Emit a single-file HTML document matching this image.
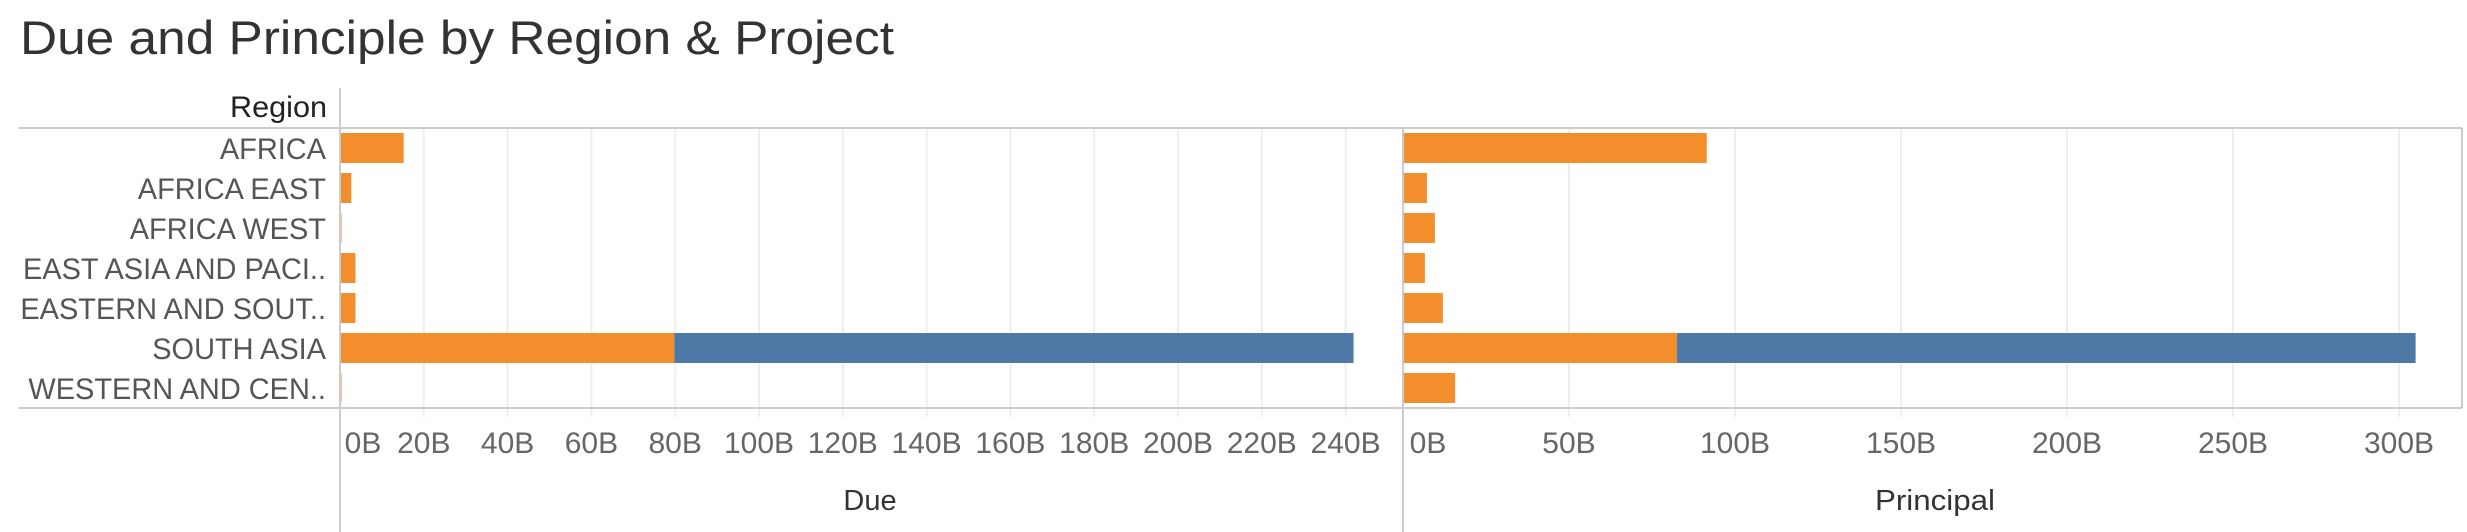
<!DOCTYPE html>
<html><head><meta charset="utf-8"><style>
html,body{margin:0;padding:0;background:#fff;}
svg{display:block;font-family:"Liberation Sans",sans-serif;}
</style></head><body>
<svg id="c" width="2467" height="532" viewBox="0 0 2467 532" xmlns="http://www.w3.org/2000/svg">
<text x="20" y="54" font-size="47" fill="#333" textLength="874" lengthAdjust="spacingAndGlyphs">Due and Principle by Region &amp; Project</text>
<text x="327" y="117" font-size="30" fill="#222" text-anchor="end" textLength="97" lengthAdjust="spacingAndGlyphs">Region</text>
<g id="g"></g>
</svg>
<script>
const regions=["AFRICA","AFRICA EAST","AFRICA WEST","EAST ASIA AND PACI..","EASTERN AND SOUT..","SOUTH ASIA","WESTERN AND CEN.."];
const dueOrange=[15.2,2.7,0.3,3.7,3.7,79.8,0.3];
const dueBlue=[0,0,0,0,0,162.1,0];
const prinOrange=[91.5,7.2,9.6,6.6,12,82.5,15.7];
const prinBlue=[0,0,0,0,0,222.5,0];
const dueTicks=[0,20,40,60,80,100,120,140,160,180,200,220,240];
const prinTicks=[0,50,100,150,200,250,300];

const NS="http://www.w3.org/2000/svg";
const g=document.getElementById('g');
function mk(t,a,txt){const e=document.createElementNS(NS,t);for(const k in a)e.setAttribute(k,a[k]);if(txt!==undefined)e.textContent=txt;g.appendChild(e);return e;}
const top0=128,rowH=40,bot=top0+rowH*regions.length;
const xDue=v=>340+v*(83.8/20);
const xPrin=v=>1403+v*(166/50);
const yRow=i=>top0+i*rowH;

dueTicks.forEach((t,i)=>{if(t===0)return;const x=xDue(t);
 const l=mk('line',{x1:x,x2:x,y1:top0,y2:bot+9,stroke:'#eeeeee','stroke-width':2});
 
 });
prinTicks.forEach((t,i)=>{if(t===0)return;const x=xPrin(t);
 const l=mk('line',{x1:x,x2:x,y1:top0,y2:bot+9,stroke:'#eeeeee','stroke-width':2});
 
 });

regions.forEach((r,i)=>{
 const y=yRow(i)+5,h=30;
 let b=mk('rect',{x:xDue(0),y:y,width:Math.max(1.5,xDue(dueOrange[i])-xDue(0)),height:h,fill:'#f28e2b'});
 
 
 if(dueBlue[i]>0){b=mk('rect',{x:xDue(dueOrange[i]),y:y,width:xDue(dueOrange[i]+dueBlue[i])-xDue(dueOrange[i]),height:h,fill:'#4e79a7'});
 
 }
 b=mk('rect',{x:xPrin(0),y:y,width:Math.max(1.5,xPrin(prinOrange[i])-xPrin(0)),height:h,fill:'#f28e2b'});
 
 
 if(prinBlue[i]>0){b=mk('rect',{x:xPrin(prinOrange[i]),y:y,width:xPrin(prinOrange[i]+prinBlue[i])-xPrin(prinOrange[i]),height:h,fill:'#4e79a7'});
 
 }
 const t=mk('text',{x:326,y:yRow(i)+31,'font-size':30,fill:'#555','text-anchor':'end'},r);
 
 
 const L=t.getComputedTextLength();t.setAttribute('textLength',L*0.965);t.setAttribute('lengthAdjust','spacingAndGlyphs');
});

[[19,top0,2462,top0],[19,bot,2462,bot],[340,88,340,532],[1403,top0,1403,532],[2462,top0,2462,bot]].forEach(c=>{
 const l=mk('line',{x1:c[0],y1:c[1],x2:c[2],y2:c[3],stroke:'#cccccc','stroke-width':2});
 
 });

function tick(x,txt,name){const t=mk('text',{x:x,y:453,'font-size':30,fill:'#666','text-anchor':'middle'},txt);
 
 }
dueTicks.forEach(t=>tick(t===0?363:xDue(t),t+'B','due-tick-label'));
prinTicks.forEach(t=>tick(t===0?1428:xPrin(t),t+'B','principal-tick-label'));

let a=mk('text',{x:870,y:510,'font-size':29,fill:'#333','text-anchor':'middle'},'Due');


a=mk('text',{x:1935,y:510,'font-size':29,fill:'#333','text-anchor':'middle',textLength:120,lengthAdjust:'spacingAndGlyphs'},'Principal');


</script>
</body></html>
